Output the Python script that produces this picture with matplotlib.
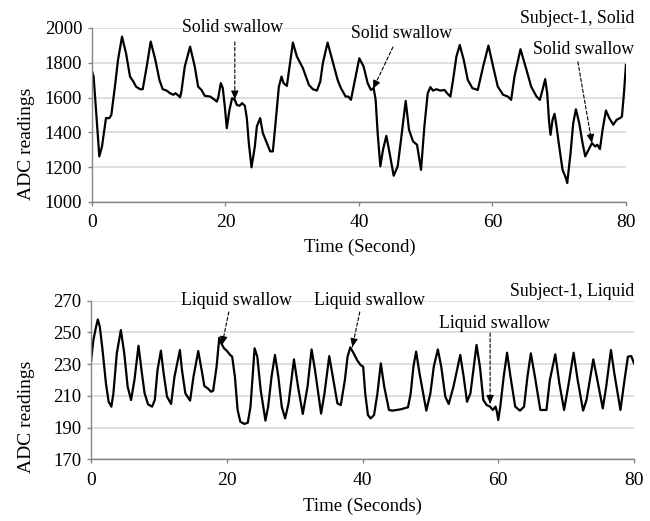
import matplotlib
matplotlib.use("Agg")
import matplotlib.pyplot as plt

plt.rcParams['font.family'] = ['Liberation Serif', 'DejaVu Serif']

# ---- Data: Subject-1, Solid ----
solid_t = [0, 0.25, 1.1, 1.5, 2.1, 2.6, 2.9, 3.5, 3.9, 4.5, 5.1, 5.7, 6.2, 6.6, 7.2, 7.6,
           8.2, 8.8, 9.5, 10.1, 10.6, 11.2, 11.7, 12.2, 12.5, 12.8, 13.2, 13.4, 13.9, 14.7,
           15.4, 15.9, 16.4, 16.9, 17.7, 18.4, 18.7, 18.9, 19.3, 19.6, 19.9, 20.2, 20.6,
           21.0, 21.4, 21.7, 22.1, 22.5, 22.9, 23.2, 23.5, 23.9, 24.4, 24.7, 25.2, 25.6,
           26.1, 26.7, 27.1, 27.5, 28.0, 28.4, 28.7, 29.2, 29.6, 30.1, 30.7, 31.6, 32.5,
           33.1, 33.7, 34.2, 34.6, 35.3, 36.0, 36.8, 37.3, 38.0, 38.4, 38.8, 39.3, 40.05,
           40.7, 41.3, 41.8, 42.2, 42.5, 42.8, 43.2, 43.6, 44.1, 44.5, 45.2, 45.8, 46.3,
           47.0, 47.5, 48.1, 48.7, 49.3, 49.8, 50.3, 50.7, 51.1, 51.6, 52.2, 52.8, 53.3,
           53.7, 54.1, 54.6, 55.1, 55.7, 56.3, 57.0, 57.8, 58.6, 59.4, 60.1, 60.8, 61.6,
           62.3, 62.8, 63.3, 64.2, 65.1, 65.8, 66.6, 67.1, 67.5, 67.9, 68.2, 68.5, 68.7,
           69.0, 69.3, 69.6, 70.0, 70.5, 71.0, 71.2, 71.7, 72.1, 72.5, 73.0, 73.5, 73.9,
           74.4, 74.9, 75.4, 75.7, 76.1, 76.5, 77.0, 77.5, 78.1, 78.6, 79.1, 79.4, 79.7, 80.0]
solid_v = [1753, 1720, 1262, 1319, 1482, 1482, 1500, 1683, 1816, 1950, 1855, 1721, 1692, 1663,
           1648, 1648, 1778, 1922, 1816, 1702, 1648, 1640, 1625, 1616, 1625, 1616, 1602, 1635,
           1778, 1893, 1778, 1663, 1644, 1610, 1606, 1587, 1577, 1597, 1683, 1654, 1549, 1424,
           1530, 1597, 1587, 1558, 1553, 1568, 1553, 1482, 1338, 1199, 1319, 1434, 1482, 1396,
           1348, 1291, 1291, 1453, 1663, 1721, 1683, 1667, 1778, 1916, 1836, 1769, 1673, 1648,
           1640, 1692, 1800, 1916, 1816, 1702, 1654, 1606, 1606, 1587, 1683, 1826, 1778, 1683,
           1644, 1654, 1587, 1396, 1205, 1300, 1380, 1300, 1151, 1205, 1358, 1581, 1415, 1348,
           1329, 1185, 1434, 1625, 1660, 1640, 1648, 1640, 1644, 1621, 1606, 1702, 1836, 1902,
           1816, 1702, 1654, 1644, 1778, 1899, 1778, 1663, 1616, 1606, 1587, 1721, 1878, 1759,
           1663, 1606, 1587, 1644, 1706, 1625, 1453, 1386, 1472, 1507, 1434, 1319, 1185, 1138,
           1109, 1281, 1453, 1533, 1453, 1338, 1262, 1300, 1338, 1319, 1329, 1304, 1415, 1526,
           1482, 1444, 1472, 1482, 1491, 1625, 1788]

# ---- Data: Subject-1, Liquid ----
liquid_t = [0, 0.35, 0.7, 1.0, 1.3, 1.7, 2.2, 2.6, 3.0, 3.3, 3.8, 4.4, 4.9, 5.4, 5.9, 6.4,
            7.0, 7.5, 7.9, 8.4, 9.0, 9.4, 9.8, 10.3, 10.7, 11.2, 11.8, 12.3, 13.1, 13.4,
            13.9, 14.6, 15.1, 15.8, 16.3, 16.7, 17.2, 17.7, 18.0, 18.5, 18.9, 19.2, 19.6,
            20.0, 20.5, 20.8, 21.2, 21.6, 22.0, 22.6, 23.1, 23.5, 23.8, 24.1, 24.5, 25.0,
            25.7, 26.1, 26.6, 27.1, 27.6, 28.1, 28.6, 29.1, 29.9, 30.5, 31.2, 31.9, 32.5,
            33.0, 33.9, 34.4, 35.1, 35.7, 36.3, 36.8, 37.4, 37.8, 38.2, 38.7, 39.2, 39.7,
            40.1, 40.4, 40.8, 41.2, 41.7, 42.2, 42.7, 43.2, 43.9, 44.4, 45.6, 46.7, 47.1,
            47.5, 47.9, 48.4, 49.4, 50.0, 50.5, 51.1, 51.6, 52.2, 52.7, 53.4, 54.4, 54.9,
            55.4, 55.9, 56.8, 57.3, 57.8, 58.3, 58.8, 59.2, 59.6, 59.8, 60.0, 60.3, 60.8,
            61.3, 61.8, 62.5, 63.2, 63.8, 64.3, 64.8, 65.4, 66.2, 67.1, 67.6, 68.4, 69.0,
            69.7, 70.3, 71.1, 71.7, 72.5, 73.0, 74.0, 74.6, 75.4, 75.9, 76.6, 77.1, 78.0,
            78.6, 79.1, 79.6, 80.0]
liquid_v = [231.6, 245.2, 252.6, 258.2, 253.6, 238.9, 217.9, 206.3, 203.2, 211.6, 236.8,
            251.5, 236.8, 215.8, 207.4, 220.0, 241.6, 224.2, 211.6, 204.7, 203.2, 207.4,
            226.3, 238.5, 224.2, 209.5, 204.9, 222.1, 238.9, 226.3, 211.6, 207.0, 222.1,
            238.3, 226.3, 216.2, 214.7, 212.6, 213.3, 228.4, 246.7, 243.1, 240.0, 238.5,
            235.8, 234.7, 222.1, 201.1, 193.7, 192.3, 193.1, 203.2, 222.1, 240.0, 234.7,
            213.7, 194.4, 203.2, 222.1, 235.8, 222.1, 203.2, 195.8, 205.3, 233.0, 215.8,
            198.6, 215.8, 239.3, 226.3, 198.8, 211.6, 235.1, 220.0, 205.3, 204.2, 220.0,
            234.7, 240.6, 236.8, 232.6, 229.5, 228.4, 211.6, 197.9, 195.8, 197.9, 211.6,
            230.5, 215.8, 201.1, 200.7, 201.5, 202.8, 211.6, 228.4, 237.9, 224.2, 200.7,
            211.6, 228.4, 239.3, 228.4, 209.5, 204.9, 215.8, 235.8, 222.1, 206.3, 211.6,
            242.1, 228.4, 207.4, 204.2, 203.2, 201.1, 203.2, 200.0, 194.8, 203.2, 222.1,
            237.2, 222.1, 203.2, 200.7, 203.2, 222.1, 236.8, 222.1, 201.1, 201.1, 220.0,
            236.2, 217.9, 201.1, 215.8, 237.2, 220.0, 200.7, 207.4, 233.0, 220.0, 202.1,
            215.8, 238.9, 224.2, 201.1, 220.0, 234.7, 235.1, 230.5]

x_ticks = [0, 20, 40, 60, 80]
solid_yticks = [1000, 1200, 1400, 1600, 1800, 2000]
liquid_yticks = [170, 190, 210, 230, 250, 270]

# annotations: (text, text_xy, arrow_start, arrow_tip)
solid_notes = [("Solid swallow", (21.1, 2000), (21.4, 1920), (21.4, 1590)),
               ("Solid swallow", (46.4, 1971), (45.1, 1891), (42.1, 1650)),
               ("Solid swallow", (73.6, 1874), (72.8, 1805), (74.9, 1339))]
liquid_notes = [("Liquid swallow", (21.4, 270), (20.3, 262.9), (19.3, 242.1)),
                ("Liquid swallow", (41.0, 270), (39.6, 262.9), (38.5, 240.8)),
                ("Liquid swallow", (59.5, 255.9), (58.8, 249.6), (58.8, 205.0))]

fig = plt.figure(figsize=(6.5, 5.21), dpi=100)
ax1 = fig.add_axes([0.1415, 0.6123, 0.963 - 0.1415, 0.9463 - 0.6123])
ax2 = fig.add_axes([0.140, 0.1184, 0.9754 - 0.140, 0.4228 - 0.1184])

FS_NOTE = 12.8
FS_YT = 13.5
FS_XT = 14
FS_LAB = 13.5
GRID = '#d9d9d9'
SPINE = '#868686'


def style(ax, yticks, xlabel, xlab_pos, ylab_pos):
    ax.set_xlim(0, 80)
    ax.set_ylim(yticks[0], yticks[-1])
    ax.set_xticks(x_ticks)
    ax.set_yticks(yticks)
    ax.tick_params(axis='both', color=SPINE, direction='out', length=3, width=1)
    ax.tick_params(axis='x', labelsize=FS_XT, pad=6)
    ax.tick_params(axis='y', labelsize=FS_YT, pad=4)
    for s in ['top', 'right']:
        ax.spines[s].set_visible(False)
    for s in ['left', 'bottom']:
        ax.spines[s].set_color(SPINE)
        ax.spines[s].set_linewidth(1)
    ax.yaxis.grid(True, color=GRID, linewidth=1.2)
    ax.set_axisbelow(True)
    ax.set_xlabel(xlabel, fontsize=FS_LAB)
    ax.set_ylabel('ADC readings', fontsize=FS_LAB + 0.5)
    ax.xaxis.set_label_coords(*xlab_pos)
    ax.yaxis.set_label_coords(*ylab_pos)


def notes(ax, items):
    for txt, pos, start, tip in items:
        ax.text(pos[0], pos[1], txt, fontsize=FS_NOTE, ha='center', va='center',
                clip_on=False)
        ax.annotate('', xy=tip, xytext=start,
                    arrowprops=dict(arrowstyle='-', linestyle=(0, (3, 2)), color='black',
                                    lw=0.8, shrinkA=0, shrinkB=0))
        ax.annotate('', xy=tip, xytext=(tip[0] + (start[0] - tip[0]) * 0.12,
                                        tip[1] + (start[1] - tip[1]) * 0.12),
                    arrowprops=dict(arrowstyle='-|>,head_length=0.5,head_width=0.22',
                                    color='black', lw=0.8, shrinkA=0, shrinkB=0))


ax1.plot(solid_t, solid_v, color='black', lw=1.6)
style(ax1, solid_yticks, 'Time (Second)', (0.501, -0.21), (-0.107, 0.336))
notes(ax1, solid_notes)
ax1.text(81.3, 2057, 'Subject-1, Solid', fontsize=FS_NOTE, ha='right', va='center',
         clip_on=False)

ax2.plot(liquid_t, liquid_v, color='black', lw=1.6)
style(ax2, liquid_yticks, 'Time (Seconds)', (0.5, -0.245), (-0.103, 0.269))
notes(ax2, liquid_notes)
ax2.text(80.1, 275.5, 'Subject-1, Liquid', fontsize=FS_NOTE, ha='right', va='center',
         clip_on=False)

fig.savefig('out.png', dpi=100)
